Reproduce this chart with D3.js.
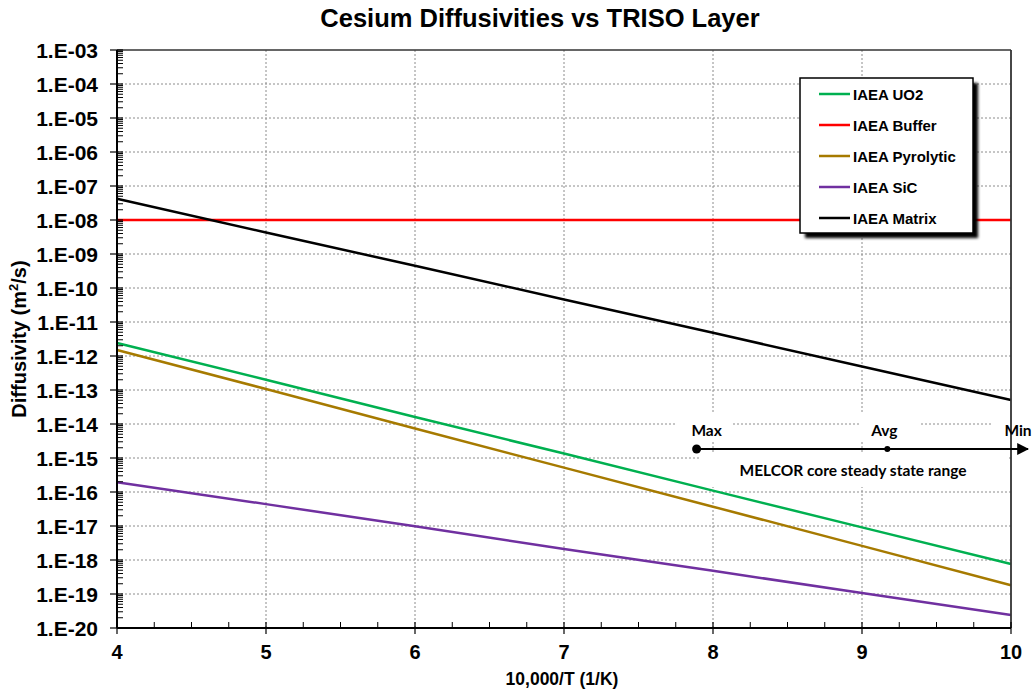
<!DOCTYPE html>
<html>
<head>
<meta charset="utf-8">
<script src="https://cdn.jsdelivr.net/npm/d3@7"></script>
<style>
  html, body { margin: 0; padding: 0; background: #fff; }
  svg { display: block; }
</style>
</head>
<body>
<svg id="chart" width="1034" height="694"></svg>
<script>
// ---------------- data ----------------
const xValues   = [4, 5, 6, 7, 8, 9, 10];              // 10,000/T (1/K)
const uo2       = [2.4e-12, 2.0e-13, 1.6e-14, 1.35e-15, 1.1e-16, 9.1e-18, 7.6e-19];
const buffer    = [1e-8, 1e-8, 1e-8, 1e-8, 1e-8, 1e-8, 1e-8];
const pyrolytic = [1.5e-12, 1.07e-13, 7.4e-15, 5.2e-16, 3.7e-17, 2.6e-18, 1.8e-19];
const sic       = [1.95e-16, 4.4e-17, 9.8e-18, 2.1e-18, 4.8e-19, 1.07e-19, 2.4e-20];
const matrix    = [4.2e-8, 4.3e-9, 4.5e-10, 4.6e-11, 4.8e-12, 4.9e-13, 5.1e-14];

const seriesNames  = ["IAEA UO2", "IAEA Buffer", "IAEA Pyrolytic", "IAEA SiC", "IAEA Matrix"];
const seriesColors = ["#00b050", "#ff0000", "#a67a00", "#7030a0", "#000000"];
const seriesValues = [uo2, buffer, pyrolytic, sic, matrix];

const xTicks = [4, 5, 6, 7, 8, 9, 10];
const xTickLabels = ["4", "5", "6", "7", "8", "9", "10"];
const yTicks = [1e-3, 1e-4, 1e-5, 1e-6, 1e-7, 1e-8, 1e-9, 1e-10, 1e-11, 1e-12,
                1e-13, 1e-14, 1e-15, 1e-16, 1e-17, 1e-18, 1e-19, 1e-20];
const yTickLabels = ["1.E-03", "1.E-04", "1.E-05", "1.E-06", "1.E-07", "1.E-08", "1.E-09",
                     "1.E-10", "1.E-11", "1.E-12", "1.E-13", "1.E-14", "1.E-15", "1.E-16",
                     "1.E-17", "1.E-18", "1.E-19", "1.E-20"];

const rangeMarks  = [7.89, 9.17, 10];     // MELCOR core steady-state 10,000/T
const rangeLabels = ["Max", "Avg", "Min"];

// ---------------- layout ----------------
const svg = d3.select("#chart");
const L = 117, R = 1011, T = 50, B = 628;
const x = d3.scaleLinear().domain([4, 10]).range([L, R]);
const y = d3.scaleLog().domain([1e-20, 1e-3]).range([B, T]);

const ARIAL = "'Liberation Sans', Arial, Helvetica, sans-serif";
const CAL = "Lato, 'Open Sans', sans-serif";

// defs
const defs = svg.append("defs");
defs.append("filter").attr("id", "shadow").attr("x", "-10%").attr("y", "-10%")
  .attr("width", "130%").attr("height", "130%")
  .append("feGaussianBlur").attr("stdDeviation", 1.6);
defs.append("marker").attr("id", "arrow").attr("viewBox", "0 0 10 10")
  .attr("refX", 9).attr("refY", 5).attr("markerWidth", 12).attr("markerHeight", 12)
  .attr("markerUnits", "userSpaceOnUse").attr("orient", "auto")
  .append("path").attr("d", "M0,0 L10,5 L0,10 Z").attr("fill", "#000");

// title
svg.append("text").attr("x", 540).attr("y", 27).attr("text-anchor", "middle")
  .attr("font-family", ARIAL).attr("font-weight", "bold").attr("font-size", 25.5)
  .attr("fill", "#000").text("Cesium Diffusivities vs TRISO Layer");

// gridlines
const grid = svg.append("g");
grid.selectAll("line.h").data(yTicks.slice(1)).join("line")
  .attr("x1", L).attr("x2", R).attr("y1", d => y(d)).attr("y2", d => y(d))
  .attr("stroke", "#8c8c8c").attr("stroke-width", 1).attr("stroke-dasharray", "2,2");
grid.selectAll("line.v").data(xTicks.slice(1, -1)).join("line")
  .attr("x1", d => x(d)).attr("x2", d => x(d)).attr("y1", T).attr("y2", B)
  .attr("stroke", "#8c8c8c").attr("stroke-width", 1).attr("stroke-dasharray", "2,2");

// white backgrounds of the annotation text boxes
const boxes = svg.append("g");
[[676, 413, 57, 27], [860, 413, 60, 27], [993, 413, 41, 27], [700, 452, 308, 35]].forEach(b => {
  boxes.append("rect").attr("x", b[0]).attr("y", b[1]).attr("width", b[2]).attr("height", b[3])
    .attr("fill", "#fff");
});

// series lines
const line = d3.line().x((d, i) => x(xValues[i])).y(d => y(d));
svg.append("g").selectAll("path").data(seriesValues).join("path")
  .attr("d", d => line(d)).attr("fill", "none")
  .attr("stroke", (d, i) => seriesColors[i]).attr("stroke-width", 2.5);

// plot border (top & right)
svg.append("line").attr("x1", L).attr("x2", R).attr("y1", T).attr("y2", T)
  .attr("stroke", "#333").attr("stroke-width", 1.6);
svg.append("line").attr("x1", R).attr("x2", R).attr("y1", T).attr("y2", B)
  .attr("stroke", "#333").attr("stroke-width", 1.8);

// y axis
const yAxis = svg.append("g");
yAxis.append("line").attr("x1", L).attr("x2", L).attr("y1", T).attr("y2", B)
  .attr("stroke", "#000").attr("stroke-width", 2);
const minorY = [];
for (let e = -20; e < -3; e++) for (let m = 2; m <= 9; m++) minorY.push(m * Math.pow(10, e));
yAxis.selectAll("line.minor").data(minorY).join("line")
  .attr("x1", L).attr("x2", L + 6).attr("y1", d => y(d)).attr("y2", d => y(d))
  .attr("stroke", "#000").attr("stroke-width", 1);
yAxis.selectAll("line.major").data(yTicks).join("line")
  .attr("x1", L - 7).attr("x2", L + 6).attr("y1", d => y(d)).attr("y2", d => y(d))
  .attr("stroke", "#000").attr("stroke-width", 1.2);
yAxis.selectAll("text").data(yTicks).join("text")
  .attr("x", 98).attr("y", d => y(d) + 7.5).attr("text-anchor", "end")
  .attr("font-family", ARIAL).attr("font-weight", "bold").attr("font-size", 21)
  .attr("fill", "#000").text((d, i) => yTickLabels[i]);

// x axis
const xAxis = svg.append("g");
xAxis.append("line").attr("x1", L).attr("x2", R).attr("y1", B).attr("y2", B)
  .attr("stroke", "#000").attr("stroke-width", 2);
const minorX = [];
for (let v = 4; v < 10; v += 0.25) if (v % 1 !== 0) minorX.push(v);
xAxis.selectAll("line.minor").data(minorX).join("line")
  .attr("x1", d => x(d)).attr("x2", d => x(d)).attr("y1", B - 6).attr("y2", B)
  .attr("stroke", "#000").attr("stroke-width", 1);
xAxis.selectAll("line.major").data(xTicks).join("line")
  .attr("x1", d => x(d)).attr("x2", d => x(d)).attr("y1", B - 6).attr("y2", B + 6)
  .attr("stroke", "#000").attr("stroke-width", 1.2);
xAxis.selectAll("text").data(xTicks).join("text")
  .attr("x", d => x(d)).attr("y", 659).attr("text-anchor", "middle")
  .attr("font-family", ARIAL).attr("font-weight", "bold").attr("font-size", 20)
  .attr("fill", "#000").text((d, i) => xTickLabels[i]);

// axis titles
svg.append("text").attr("x", 562).attr("y", 685).attr("text-anchor", "middle")
  .attr("font-family", ARIAL).attr("font-weight", "bold").attr("font-size", 17.5)
  .attr("fill", "#000").text("10,000/T (1/K)");
const yt = svg.append("text").attr("transform", "translate(26,339) rotate(-90)")
  .attr("text-anchor", "middle").attr("font-family", ARIAL).attr("font-weight", "bold")
  .attr("font-size", 20).attr("fill", "#000");
yt.append("tspan").text("Diffusivity (m");
yt.append("tspan").attr("font-size", 13).attr("dy", -8).text("2");
yt.append("tspan").attr("dy", 8).text("/s)");

// legend
const lg = svg.append("g");
lg.append("rect").attr("x", 805).attr("y", 83).attr("width", 173).attr("height", 155)
  .attr("fill", "#000").attr("filter", "url(#shadow)");
lg.append("rect").attr("x", 800).attr("y", 78).attr("width", 173).attr("height", 155)
  .attr("fill", "#fff").attr("stroke", "#000").attr("stroke-width", 1.5);
const rowY = [94, 125, 156, 187, 218];
seriesNames.forEach((n, i) => {
  lg.append("line").attr("x1", 819).attr("x2", 850).attr("y1", rowY[i]).attr("y2", rowY[i])
    .attr("stroke", seriesColors[i]).attr("stroke-width", 2.5);
  lg.append("text").attr("x", 853).attr("y", rowY[i] + 5.5)
    .attr("font-family", ARIAL).attr("font-weight", "bold").attr("font-size", 15)
    .attr("fill", "#000").text(n);
});

// MELCOR range annotation
const ay = 449;
const ann = svg.append("g");
ann.append("line").attr("x1", x(rangeMarks[0])).attr("x2", 1028).attr("y1", ay).attr("y2", ay)
  .attr("stroke", "#000").attr("stroke-width", 2).attr("marker-end", "url(#arrow)");
ann.append("circle").attr("cx", x(rangeMarks[0])).attr("cy", ay).attr("r", 4.5).attr("fill", "#000");
ann.append("circle").attr("cx", x(rangeMarks[1])).attr("cy", ay).attr("r", 3).attr("fill", "#000");
const labelDx = [10, -3, 7];
rangeLabels.forEach((t, i) => {
  ann.append("text").attr("x", x(rangeMarks[i]) + labelDx[i]).attr("y", 436)
    .attr("text-anchor", "middle").attr("font-family", CAL).attr("font-weight", "bold")
    .attr("font-size", 15.5).attr("fill", "#000").text(t);
});
ann.append("text").attr("x", 853).attr("y", 476).attr("text-anchor", "middle")
  .attr("font-family", CAL).attr("font-weight", "bold").attr("font-size", 15.5)
  .attr("fill", "#000").text("MELCOR core steady state range");
</script>
</body>
</html>
